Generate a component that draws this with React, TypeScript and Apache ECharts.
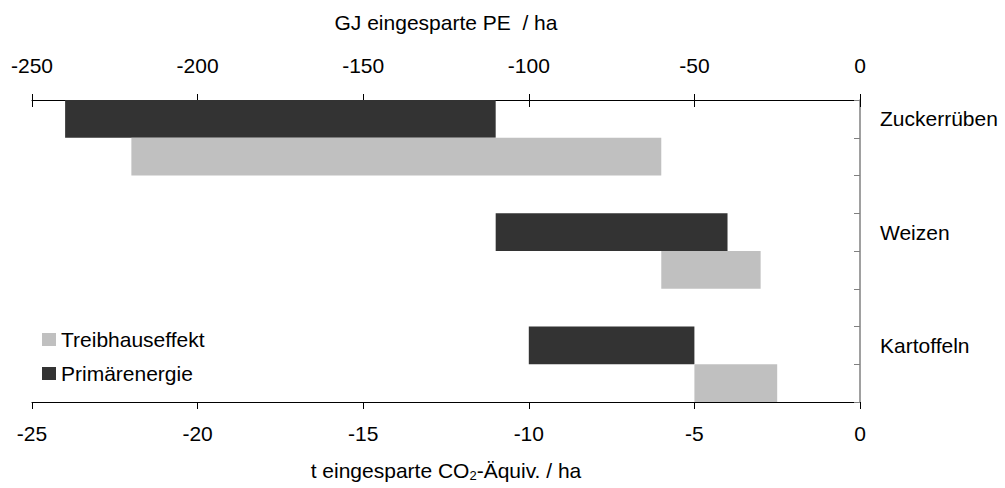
import React, { useEffect, useRef } from 'react';
import * as echarts from 'echarts';

// Data
const categories = ['Zuckerrüben', 'Weizen', 'Kartoffeln'];
// Primärenergie in GJ eingesparte PE / ha (top axis): start and end of each bar
const peStart = [-240, -110, -100];
const peEnd = [-110, -40, -50];
// Treibhauseffekt in t eingesparte CO2-Äquiv. / ha (bottom axis)
const co2Start = [-22, -6, -5];
const co2End = [-6, -3, -2.5];

const peTicks = { min: -250, max: 0, interval: 50 };
const co2Ticks = { min: -25, max: 0, interval: 5 };

const FONT = '"Liberation Sans", Arial, sans-serif';
const DARK = '#333333';
const LIGHT = '#c0c0c0';

// Slots along the category axis: dark bar, light bar, gap
const slots: string[] = [];
categories.forEach((c, i) => {
  slots.push(c);
  slots.push(c + '#2');
  if (i < categories.length - 1) slots.push(c + '#3');
});

const peBase = slots.map((_, s) => (s % 3 === 0 ? peStart[s / 3] : '-'));
const peLen = slots.map((_, s) => (s % 3 === 0 ? peEnd[s / 3] - peStart[s / 3] : '-'));
const co2Base = slots.map((_, s) => (s % 3 === 1 ? co2Start[(s - 1) / 3] : '-'));
const co2Len = slots.map((_, s) => (s % 3 === 1 ? co2End[(s - 1) / 3] - co2Start[(s - 1) / 3] : '-'));

export default function App() {
  const ref = useRef<HTMLDivElement>(null);
  useEffect(() => {
    document.body.style.margin = '0';
    const chart = echarts.init(ref.current!, null, { renderer: 'svg' });
    const labelStyle = { fontFamily: FONT, fontSize: 21, color: '#000' };
    const barCommon = {
      type: 'bar' as const,
      yAxisIndex: 0,
      barGap: '-100%',
      barCategoryGap: '0%',
      stackStrategy: 'all' as const,
    };
    chart.setOption({
      animation: false,
      backgroundColor: '#fff',
      grid: { left: 32, right: 145, top: 100, bottom: 86, containLabel: false },
      legend: {
        orient: 'vertical',
        left: 37,
        top: 324,
        itemWidth: 14,
        itemHeight: 13,
        itemGap: 13,
        icon: 'rect',
        data: ['Treibhauseffekt', 'Primärenergie'],
        textStyle: { ...labelStyle, padding: [0, 0, 0, 0] },
      },
      xAxis: [
        {
          type: 'value',
          position: 'bottom',
          min: co2Ticks.min,
          max: co2Ticks.max,
          interval: co2Ticks.interval,
          axisLine: { show: true, lineStyle: { color: '#000', width: 1 } },
          axisTick: { show: true, inside: false, length: 7, lineStyle: { color: '#000' } },
          axisLabel: { ...labelStyle, margin: 21 },
          splitLine: { show: false },
          name: 't eingesparte CO{sub|2}-Äquiv. / ha',
          nameLocation: 'middle',
          nameGap: 57,
          nameTextStyle: {
            ...labelStyle,
            rich: {
              sub: { fontFamily: FONT, fontSize: 13, color: '#000', padding: [10, 0, 0, 0] },
            },
          },
        },
        {
          type: 'value',
          position: 'top',
          min: peTicks.min,
          max: peTicks.max,
          interval: peTicks.interval,
          axisLine: { show: true, lineStyle: { color: '#000', width: 1 } },
          axisTick: { show: true, inside: true, length: 7, lineStyle: { color: '#000' } },
          axisLabel: { ...labelStyle, margin: 24 },
          splitLine: { show: false },
          name: 'GJ eingesparte PE  / ha',
          nameLocation: 'middle',
          nameGap: 67,
          nameTextStyle: { ...labelStyle },
        },
        {
          type: 'value',
          position: 'top',
          min: peTicks.min,
          max: peTicks.max,
          interval: peTicks.interval,
          axisLine: { show: false },
          axisTick: { show: true, inside: false, length: 6, lineStyle: { color: '#000' } },
          axisLabel: { show: false },
          splitLine: { show: false },
        },
      ],
      yAxis: [
        {
          type: 'category',
          position: 'right',
          inverse: true,
          data: slots,
          axisLine: { show: true, lineStyle: { color: '#808080', width: 1.5 } },
          axisTick: { show: true, inside: true, length: 6, interval: 0, lineStyle: { color: '#808080' } },
          axisLabel: {
            ...labelStyle,
            margin: 20,
            interval: 0,
            padding: [0, 0, 4, 0],
            formatter: (v: string, i: number) => (i % 3 === 0 ? v : ''),
          },
          splitLine: { show: false },
        },
      ],
      series: [
        {
          ...barCommon,
          name: 'peBase',
          xAxisIndex: 1,
          stack: 'pe',
          data: peBase,
          itemStyle: { color: 'rgba(0,0,0,0)' },
          silent: true,
        },
        {
          ...barCommon,
          name: 'Primärenergie',
          xAxisIndex: 1,
          stack: 'pe',
          data: peLen,
          itemStyle: { color: DARK },
        },
        {
          ...barCommon,
          name: 'co2Base',
          xAxisIndex: 0,
          stack: 'co2',
          data: co2Base,
          itemStyle: { color: 'rgba(0,0,0,0)' },
          silent: true,
        },
        {
          ...barCommon,
          name: 'Treibhauseffekt',
          xAxisIndex: 0,
          stack: 'co2',
          data: co2Len,
          itemStyle: { color: LIGHT },
        },
      ],
    });
    return () => chart.dispose();
  }, []);
  return <div ref={ref} style={{ width: 1005, height: 488 }} />;
}
